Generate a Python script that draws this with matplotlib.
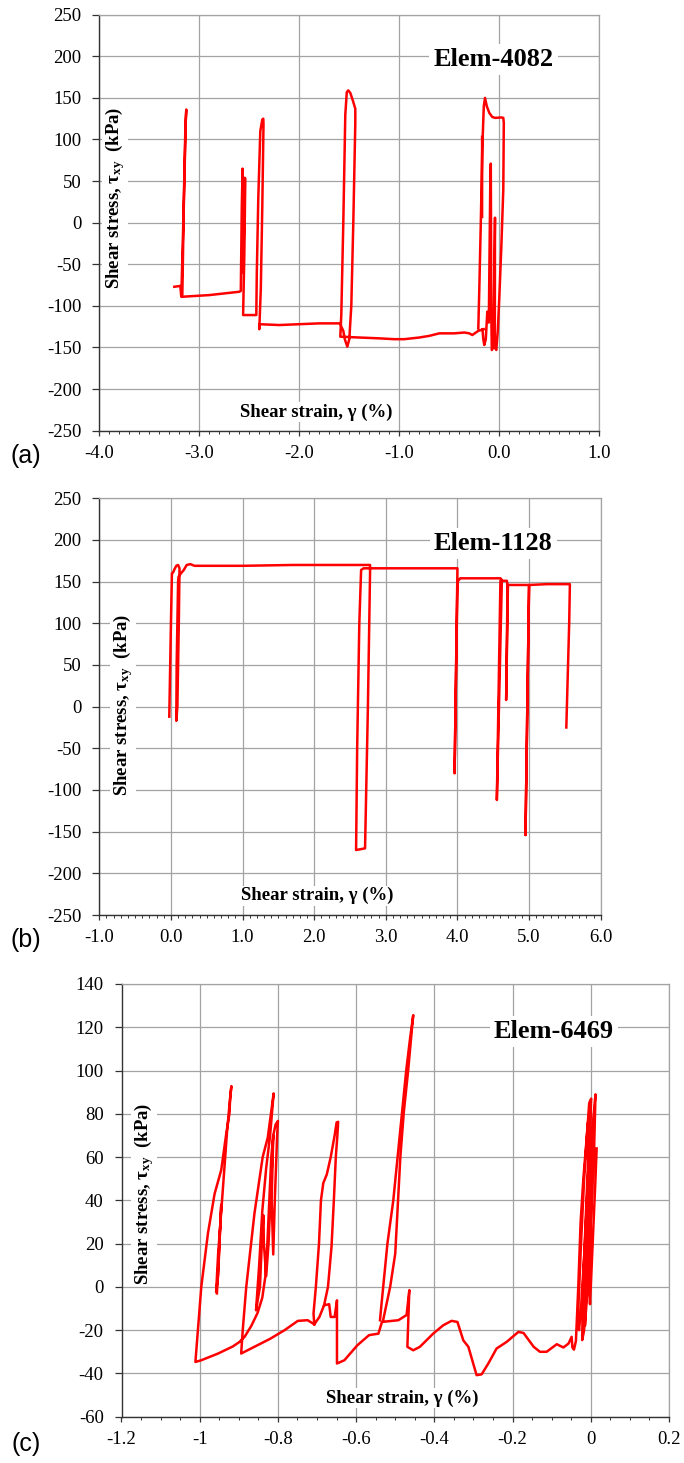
import matplotlib
matplotlib.use('Agg')
import matplotlib.pyplot as plt
from matplotlib.ticker import MultipleLocator, FuncFormatter
import numpy as np

nan = np.nan

# (a) Elem-4082 : shear strain (%) vs shear stress (kPa)
a_strain = [-3.25, -3.19, -3.18, -3.16, -3.14, -3.13, -3.135, -3.155, -3.17, -2.9, -2.6, -2.585,
            -2.575, -2.567, -2.563, -2.56, -2.553, -2.545, -2.54, -2.55, -2.562, -2.43, -2.425,
            -2.41, -2.39, -2.37, -2.36, -2.358, -2.37, -2.385, -2.40, -2.40, -2.2, -2.0, -1.8,
            -1.59, -1.58, -1.56, -1.545, -1.52, -1.50, -1.48, -1.46, -1.44, -1.44, -1.465, -1.49,
            -1.51, -1.525, -1.54, -1.56, -1.58, -1.59, -1.4, -1.2, -1.05, -0.95, -0.8, -0.7, -0.6,
            -0.45, -0.35, -0.3, -0.27, -0.21, -0.155, nan,
            -0.21, -0.2, -0.185, -0.17, -0.155, -0.143, -0.125, -0.1, -0.07, -0.04, 0.02, 0.04,
            0.045, 0.04, 0.02, 0.0, -0.015, -0.03, -0.045, -0.043, -0.05, -0.06, -0.075, -0.08,
            -0.085, -0.09, -0.105, -0.12, -0.135, -0.15, -0.16, -0.168, nan, -0.172, -0.172]
a_stress = [-77, -76, -89, 0, 110, 136, 125, 20, -89, -87, -83, -82,
            20, 65, 30, -60, 0, 54, 53, -40, -111, -111, -60,
            30, 110, 124, 125, 118, 20, -80, -128, -122, -123, -122, -121,
            -121, -125, -130, -140, -149, -140, -100, 0, 120, 137, 147, 156,
            159, 157, 130, 0, -110, -137, -138, -139, -140, -140, -138, -136, -133,
            -133, -132, -133, -135, -130, -128, nan,
            -127, -80, 0, 90, 140, 150, 140, 132, 127, 126, 126.5, 126,
            120, 40, -30, -90, -130, -153, -150, 6, -60, -150, -153, -110,
            71, 50, -120, -107, -140, -147, -140, -128, nan, 103, 7]

# (b) Elem-1128
b_strain = [-0.023, 0.0, 0.014, 0.03, 0.05, 0.075, 0.1, 0.12, 0.11, 0.09, 0.075, 0.08, 0.1,
            0.107, 0.14, 0.18, 0.22, 0.27, 0.33, 1.0, 1.7, 2.0, 2.5, 2.78, 2.78, 2.75, 2.71,
            2.65, 2.585, 2.60, 2.63, 2.655, 2.69, 3.5, 4.0, 3.96, 4.0, 4.04, 4.6, 4.62, 4.55,
            4.6, 4.69, 4.70, 4.68, 4.705, 4.73, 5.0, 4.95, 5.0, 5.25, 5.57, 5.56, 5.52]
b_stress = [-12, 100, 160, 161, 165, 169, 170, 166, 100, 0, -17, 50, 150,
            156, 160, 164, 170, 171, 169, 169, 170, 170, 170, 170, 160, 0, -170,
            -171, -172, -50, 100, 164, 166, 166, 166, -80, 150, 154, 154, 152, -112,
            151, 151, 145, 8, 146, 146, 146, -154, 146, 147, 147, 100, -25]

# (c) Elem-6469
c_strain = [-0.956, -0.951, -0.945, -0.947, -0.953, -0.958, -0.953, -0.945, -0.937, -0.93, -0.925,
            -0.919, -0.922, -0.924, -0.932, -0.945, -0.962, -0.979, -0.996, -1.011, -0.996, -0.953,
            -0.915, -0.898, -0.885, -0.868, -0.852, -0.84, -0.832, -0.827, -0.822, -0.817, -0.812,
            -0.806, -0.80, -0.802, -0.808, -0.812, -0.816, -0.812, -0.818, -0.824, -0.83, -0.836,
            -0.837, -0.84, -0.846, -0.856, -0.848, -0.84, -0.83, -0.82, -0.811, -0.826, -0.839,
            -0.86, -0.881, -0.89, -0.894, -0.86, -0.82, -0.783, -0.749, -0.724, -0.707, -0.694,
            -0.682, -0.669, -0.665, -0.655, -0.649, -0.649, -0.63, -0.597, -0.567, -0.543, -0.534,
            -0.492, -0.471, -0.464, -0.469, -0.454, -0.437, -0.403, -0.377, -0.356, -0.341, -0.326,
            -0.313, -0.292, -0.279, -0.262, -0.241, -0.215, -0.185, -0.172, -0.146, -0.13, -0.113,
            -0.087, -0.07, -0.057, -0.049, -0.047, -0.043, -0.038, -0.032, -0.026, -0.019, -0.01,
            -0.004, 0.001, -0.006, -0.015, -0.025, -0.03, -0.033, -0.025, -0.017, -0.008, -0.001,
            -0.01, -0.02, -0.022, -0.017, -0.012, -0.003, 0.005, 0.012, 0.008, 0.0, -0.008, -0.015,
            -0.012, -0.003, 0.004, 0.005, 0.001, -0.004, -0.002, 0.006, 0.012, 0.015, nan,
            -0.707, -0.709, -0.703, -0.695, -0.69, -0.684, -0.675, -0.665, -0.655, -0.65, -0.646,
            -0.648, -0.652, -0.657, -0.663, -0.672, -0.682, nan,
            -0.539, -0.535, -0.52, -0.505, -0.482, -0.472, -0.462, -0.454, -0.458, -0.467, -0.478,
            -0.487, -0.5, -0.513, -0.531]
c_stress = [-3, 15, 38, 30, 5, -2.3, 15, 35, 55, 72, 82,
            92.8, 88, 80, 71, 54, 43, 24.7, 0, -34.7, -33.9, -30.8,
            -27.5, -25.4, -23, -18, -12, -5, 5, 20, 40, 60, 70,
            75, 76.7, 70, 40, 15, 40, 70, 45, 20, 5, 20,
            33, 25, 0, -10.8, 10, 35, 55, 70, 89.4, 69, 60,
            34, 0, -20, -30.8, -27.7, -24, -20, -15.7, -15.4, -17.3, -13.9,
            -8.5, -8, -13.9, -13.9, -6.2, -35.4, -33.9, -27, -22.3, -21.6, -16.2,
            -15.4, -13, -1.5, -27.7, -29.3, -27.7, -21.6, -17.7, -15.7, -16.2, -24.7,
            -27.7, -40.8, -40.4, -35.4, -28.5, -25.4, -20.8, -21.3, -27.7, -30, -30,
            -26.5, -28, -26.2, -23.1, -28, -29, -25, 0, 30, 50, 70,
            85, 87, 55, 20, -10, -20, -15, 20, 50, 75, 82,
            45, 0, -24.6, -20, 10, 50, 75, 89, 60, 30, 0, -18,
            -5, 35, 60, 66, 40, 0, -8, 25, 50, 64, nan,
            -17.3, -12.3, 0, 20, 40, 48, 52, 60, 70, 76, 76.3,
            70, 60, 40, 18.5, 0, -8.5, nan,
            -15.4, -7.7, 20, 40, 81.7, 100, 115, 125.6, 118, 100, 81,
            60, 15.4, 0, -15.4]

panels = [
    dict(x=a_strain, y=a_stress, name='Elem-4082', tag='(a)', xlim=(-4, 1), ylim=(-250, 250),
         xmaj=1.0, xmin=0.1, ymaj=50, fmt='%.1f', elem_xy=(-0.06, 196),
         rect=[99.3, 14.7, 599.3, 430.7], ylab=(0.031, 0.559), xlab=(0.434, 0.045), tag_y=456),
    dict(x=b_strain, y=b_stress, name='Elem-1128', tag='(b)', xlim=(-1, 6), ylim=(-250, 250),
         xmaj=1.0, xmin=0.1, ymaj=50, fmt='%.1f', elem_xy=(4.5, 196),
         rect=[99.3, 498.3, 600.7, 915.0], ylab=(0.047, 0.504), xlab=(0.434, 0.046), tag_y=940),
    dict(x=c_strain, y=c_stress, name='Elem-6469', tag='(c)', xlim=(-1.2, 0.2), ylim=(-60, 140),
         xmaj=0.2, xmin=0.05, ymaj=20, fmt='%g', elem_xy=(-0.094, 118),
         rect=[121.5, 984.0, 669.0, 1416.7], ylab=(0.041, 0.515), xlab=(0.512, 0.043), tag_y=1444),
]

W, H = 684, 1463
plt.rcParams['font.family'] = ['Liberation Serif', 'DejaVu Serif']
plt.rcParams['axes.unicode_minus'] = False
plt.rcParams['mathtext.fontset'] = 'custom'
plt.rcParams['mathtext.rm'] = 'Liberation Serif'
plt.rcParams['mathtext.bf'] = 'Liberation Serif:bold'
plt.rcParams['mathtext.it'] = 'Liberation Serif:italic'

fig = plt.figure(figsize=(W / 100, H / 100), dpi=100)
grid_c = '#a3a3a3'

for p in panels:
    x0, y0, x1, y1 = p['rect']
    ax = fig.add_axes([x0 / W, 1 - y1 / H, (x1 - x0) / W, (y1 - y0) / H])
    ax.plot(p['x'], p['y'], color='#ff0000', lw=1.8, zorder=3)
    ax.set_xlim(*p['xlim'])
    ax.set_ylim(*p['ylim'])
    ax.xaxis.set_major_locator(MultipleLocator(p['xmaj']))
    ax.xaxis.set_minor_locator(MultipleLocator(p['xmin']))
    ax.yaxis.set_major_locator(MultipleLocator(p['ymaj']))
    f = p['fmt']
    ax.xaxis.set_major_formatter(FuncFormatter(lambda v, pos, f=f: f % (round(v, 6) + 0.0)))
    ax.yaxis.set_major_formatter(FuncFormatter(lambda v, pos: '%d' % round(v)))
    ax.set_axisbelow(True)
    ax.grid(True, which='major', color=grid_c, lw=0.9)
    for s in ['top', 'right']:
        ax.spines[s].set_color(grid_c)
        ax.spines[s].set_linewidth(0.9)
    for s in ['left', 'bottom']:
        ax.spines[s].set_color('#333333')
        ax.spines[s].set_linewidth(1.0)
    ax.tick_params(axis='y', which='major', direction='out', length=4.8, width=0.9,
                   pad=8, labelsize=13.5, color='#333333')
    ax.tick_params(axis='x', which='major', direction='out', length=3.4, width=0.9,
                   pad=7, labelsize=13.5, color='#333333')
    ax.tick_params(axis='x', which='minor', direction='out', length=2.4, width=0.7,
                   color='#333333')
    ax.text(p['elem_xy'][0], p['elem_xy'][1], p['name'], ha='center', va='center',
            fontsize=19, fontweight='bold', zorder=4,
            bbox=dict(facecolor='white', edgecolor='none', pad=3))
    ax.text(p['ylab'][0], p['ylab'][1], r'Shear stress, $\mathbf{\tau_{xy}}$  (kPa)',
            transform=ax.transAxes, rotation=90, ha='center', va='center',
            fontsize=13.5, fontweight='bold', zorder=4,
            bbox=dict(facecolor='white', edgecolor='none', pad=1))
    ax.text(p['xlab'][0], p['xlab'][1], 'Shear strain, γ (%)',
            transform=ax.transAxes, ha='center', va='center',
            fontsize=13.5, fontweight='bold', zorder=4,
            bbox=dict(facecolor='white', edgecolor='none', pad=1))
    fig.text(26 / W, 1 - p['tag_y'] / H, p['tag'], ha='center', va='center',
             fontsize=18, family='Liberation Sans')

fig.savefig('out.png', dpi=100)
